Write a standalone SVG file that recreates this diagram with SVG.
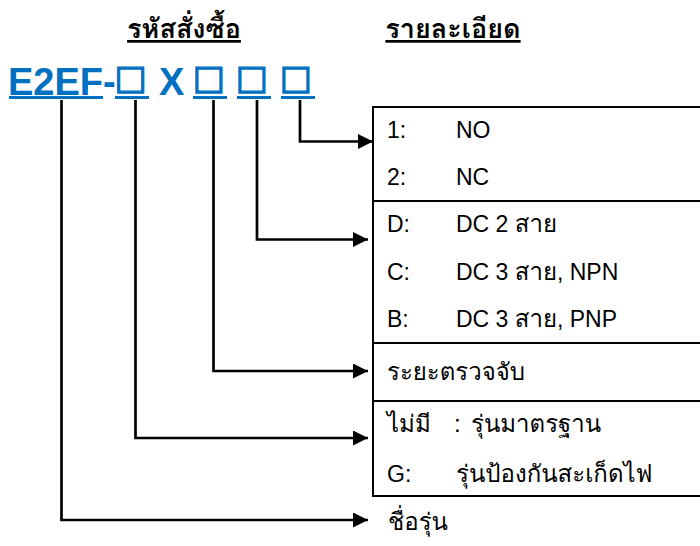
<svg xmlns="http://www.w3.org/2000/svg" width="700" height="546" viewBox="0 0 700 546">
<defs>
<marker id="ah" viewBox="0 0 15 15" refX="15" refY="7.5" markerWidth="15" markerHeight="15" markerUnits="userSpaceOnUse" orient="auto">
<path d="M0,0 L15,7.5 L0,15 Z" fill="#000"/>
</marker>
<style>
.hdr{font-family:Loma,"Noto Sans Thai Looped",sans-serif;font-size:27px;font-weight:bold;fill:#000;text-decoration:underline}
.code{font-family:"Liberation Sans",Arial,sans-serif;font-size:38px;font-weight:bold;fill:#0070C0}
.sq{font-family:"DejaVu Sans",sans-serif;font-size:34px;font-weight:bold;fill:#0070C0;stroke:#0070C0;stroke-width:1.3}
.ul{stroke:#0070C0;stroke-width:3}
.t{font-family:"Liberation Sans",Loma,"Noto Sans Thai Looped",sans-serif;font-size:23px;fill:#000}
.th{font-family:Loma,"Noto Sans Thai Looped",sans-serif;font-size:24px}
.conn{fill:none;stroke:#000;stroke-width:2.7;marker-end:url(#ah)}
.box{fill:#fff;stroke:#000;stroke-width:2}
.div{stroke:#000;stroke-width:2}
</style>
</defs>
<g id="headers">
<text class="hdr" x="184" y="38" text-anchor="middle">รหัสสั่งซื้อ</text>
<text class="hdr" x="453" y="38" text-anchor="middle">รายละเอียด</text>
</g>
<g id="code">
<text class="code" y="95"><tspan x="8">E2EF</tspan><tspan x="103">-</tspan><tspan x="159">X</tspan></text>
<text class="sq" y="89" text-anchor="middle"><tspan x="130.5">□</tspan><tspan x="208.7">□</tspan><tspan x="251.7">□</tspan><tspan x="295.8">□</tspan></text>
<line class="ul" x1="9" y1="97.5" x2="103" y2="97.5"/>
<line class="ul" x1="115" y1="97.5" x2="149" y2="97.5"/>
<line class="ul" x1="193" y1="97.5" x2="227" y2="97.5"/>
<line class="ul" x1="237" y1="97.5" x2="271" y2="97.5"/>
<line class="ul" x1="281" y1="97.5" x2="315" y2="97.5"/>
</g>
<g id="details">
<rect class="box" x="373" y="107" width="340" height="389"/>
<line class="div" x1="373" y1="201" x2="702" y2="201"/>
<line class="div" x1="373" y1="343" x2="702" y2="343"/>
<line class="div" x1="373" y1="401" x2="702" y2="401"/>
</g>
<g id="opt-contact">
<text class="t" x="387" y="138">1:</text><text class="t" x="456" y="138">NO</text>
<text class="t" x="387" y="185">2:</text><text class="t" x="456" y="185">NC</text>
</g>
<g id="opt-output">
<text class="t" x="387" y="232">D:</text><text class="t" x="456" y="232">DC 2 <tspan class="th">สาย</tspan></text>
<text class="t" x="387" y="280">C:</text><text class="t" x="456" y="280">DC 3 <tspan class="th">สาย</tspan>, NPN</text>
<text class="t" x="387" y="327">B:</text><text class="t" x="456" y="327">DC 3 <tspan class="th">สาย</tspan>, PNP</text>
</g>
<g id="opt-distance">
<text class="t th" x="387" y="380">ระยะตรวจจับ</text>
</g>
<g id="opt-type">
<text class="t th" x="387" y="432">ไม่มี<tspan x="454">:</tspan><tspan x="471">รุ่นมาตรฐาน</tspan></text>
<text class="t" x="387" y="482">G:</text><text class="t th" x="456" y="482">รุ่นป้องกันสะเก็ดไฟ</text>
</g>
<g id="opt-model">
<text class="t th" x="388" y="530">ชื่อรุ่น</text>
</g>
<g id="connectors">
<polyline class="conn" points="61.5,100 61.5,520 368,520"/>
<polyline class="conn" points="135.5,100 135.5,438 368,438"/>
<polyline class="conn" points="213.5,100 213.5,371 368,371"/>
<polyline class="conn" points="257,100 257,239.5 368,239.5"/>
<polyline class="conn" points="300,100 300,141.5 373,141.5"/>
</g>
</svg>
